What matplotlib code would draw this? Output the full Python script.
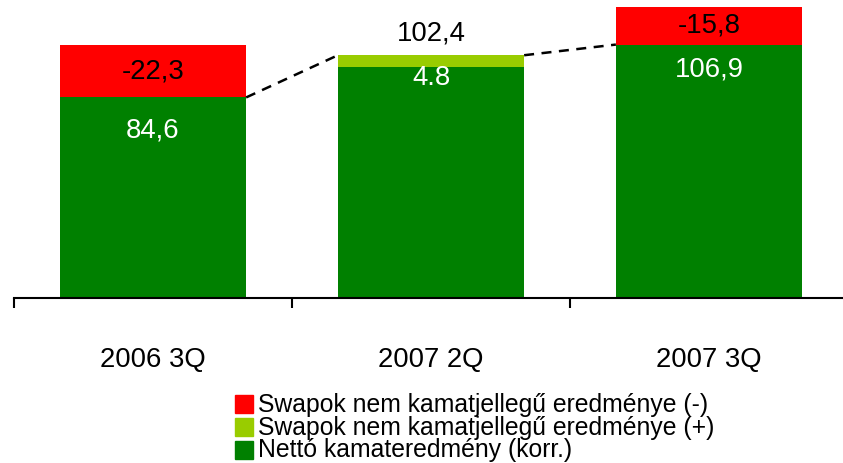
import matplotlib
matplotlib.use("Agg")
import matplotlib.pyplot as plt
from matplotlib.patches import Rectangle

plt.rcParams['font.family'] = ['Liberation Sans', 'DejaVu Sans']

categories = ["2006 3Q", "2007 2Q", "2007 3Q"]
netto = [84.6, 97.6, 106.9]          # Nettó kamateredmény (korr.)
swap_pos = [0.0, 4.8, 0.0]           # Swapok nem kamatjellegű eredménye (+)
swap_neg = [22.3, 0.0, 15.8]         # Swapok nem kamatjellegű eredménye (-)
netto_labels = ["84,6", "", "106,9"]
pos_labels = ["", "4.8", ""]
neg_labels = ["-22,3", "", "-15,8"]
total_labels = ["", "102,4", ""]
legend_labels = ["Swapok nem kamatjellegű eredménye (-)",
                 "Swapok nem kamatjellegű eredménye (+)",
                 "Nettó kamateredmény (korr.)"]

RED = "#FF0000"
LGREEN = "#99CC00"
GREEN = "#008000"

W, H = 843, 463
fig = plt.figure(figsize=(W / 100, H / 100), dpi=100)
ax = fig.add_axes([14 / W, (H - 298) / H, 1 - 14 / W, 298 / H])
ax.set_xlim(-0.5, 2.482)
ax.set_ylim(0, 125.7)

x = list(range(len(categories)))
bw = 0.67
ax.bar(x, netto, width=bw, color=GREEN, zorder=2)
ax.bar(x, swap_pos, width=bw, bottom=netto, color=LGREEN, zorder=2)
ax.bar(x, swap_neg, width=bw, bottom=netto, color=RED, zorder=2)

# dashed connectors
tops = [n + p for n, p in zip(netto, swap_pos)]
for i in range(len(x) - 1):
    ax.plot([x[i] + bw / 2, x[i + 1] - bw / 2], [tops[i], tops[i + 1]],
            color="black", lw=1.8, ls=(0, (4, 3)), zorder=3)

fs = 19.8
green_offsets = [-33, 0, -25]   # pixel offset of label center below green top
for i in x:
    if netto_labels[i]:
        ax.annotate(netto_labels[i], (x[i], netto[i]), xytext=(0, green_offsets[i] * 0.72),
                    textcoords="offset points", ha="center", va="center",
                    color="white", fontsize=fs, zorder=4)
    if pos_labels[i]:
        ax.annotate(pos_labels[i], (x[i], netto[i]), xytext=(0, -11 * 0.72),
                    textcoords="offset points", ha="center", va="center",
                    color="white", fontsize=fs, zorder=4)
    if neg_labels[i]:
        ax.text(x[i], netto[i] + swap_neg[i] / 2, neg_labels[i], ha="center", va="center",
                color="black", fontsize=fs, zorder=4)
    if total_labels[i]:
        ax.annotate(total_labels[i], (x[i], tops[i]), xytext=(0, 22 * 0.72),
                    textcoords="offset points", ha="center", va="center",
                    color="black", fontsize=fs, zorder=4)

# axis styling
for s in ["left", "right", "top"]:
    ax.spines[s].set_visible(False)
ax.spines["bottom"].set_linewidth(1.5)
ax.spines["bottom"].set_zorder(5)
ax.set_yticks([])
ax.set_xticks([-0.5, 0.5, 1.5])
ax.set_xticklabels([])
ax.tick_params(axis="x", direction="out", length=7.5, width=1.5, color="black")
for i, c in enumerate(categories):
    ax.text(x[i], -62 / 298, c, transform=ax.get_xaxis_transform(),
            ha="center", va="center", fontsize=fs, color="black")

# manual legend
colors = [RED, LGREEN, GREEN]
ys = [404, 426.5, 449.5]
for c, lab, yc in zip(colors, legend_labels, ys):
    fig.patches.append(Rectangle((235 / W, 1 - (yc + 9) / H), 18 / W, 18 / H,
                                 transform=fig.transFigure, color=c, figure=fig))
    fig.text(258 / W, 1 - (yc + 1) / H, lab, ha="left", va="center",
             fontsize=17.8, color="black")

fig.savefig("out.png", dpi=100)
